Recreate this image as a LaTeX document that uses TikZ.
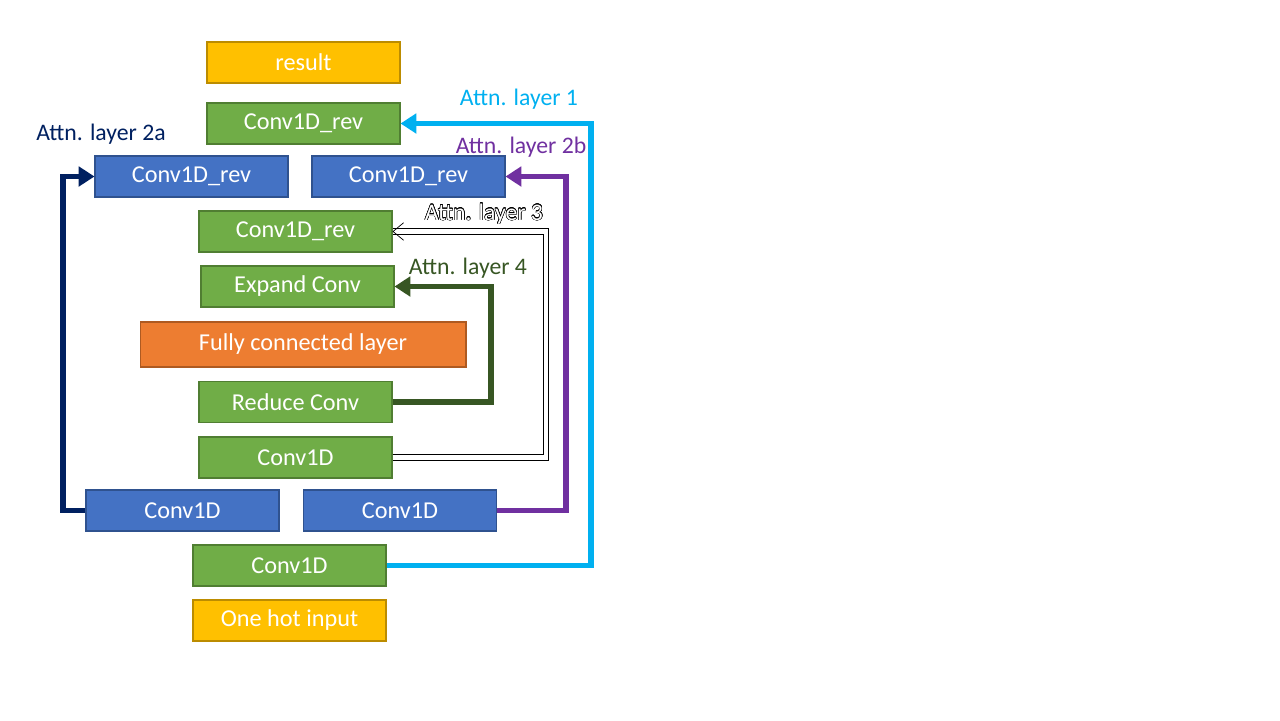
\documentclass[tikz,border=0pt]{standalone}
\usepackage{fontspec}
\setmainfont{Carlito}
\usepackage{tikz}
\usetikzlibrary{arrows.meta}
\usepackage{contour}
\contourlength{0.25pt}
\usepackage{xcolor}

\definecolor{boxgreen}{HTML}{70AD47}
\definecolor{boxgreenline}{HTML}{507E32}
\definecolor{boxblue}{HTML}{4472C4}
\definecolor{boxblueline}{HTML}{2F528F}
\definecolor{boxgold}{HTML}{FFC000}
\definecolor{boxgoldline}{HTML}{BC8C00}
\definecolor{boxorange}{HTML}{ED7D31}
\definecolor{boxorangeline}{HTML}{AE5A21}
\definecolor{attncyan}{HTML}{00B0F0}
\definecolor{attnnavy}{HTML}{002060}
\definecolor{attnpurple}{HTML}{7030A0}
\definecolor{attngreen}{HTML}{375623}

\tikzset{
  layer/.style={draw, line width=0.6pt, text=white, font=\fontsize{13.8}{15}\selectfont,
    minimum width=3.86cm, minimum height=0.82cm, inner sep=0pt},
  greenlayer/.style={layer, fill=boxgreen, draw=boxgreenline},
  bluelayer/.style={layer, fill=boxblue, draw=boxblueline},
  goldlayer/.style={layer, fill=boxgold, draw=boxgoldline},
  orangelayer/.style={layer, fill=boxorange, draw=boxorangeline, minimum width=6.52cm, minimum height=0.9cm},
  attn/.style={line width=3.2pt, -{Triangle[length=9pt, width=11pt]}},
  attnlabel/.style={font=\fontsize{13.5}{15}\selectfont, inner sep=0pt}
}

\begin{document}
\begin{tikzpicture}[x=0.02cm, y=-0.02cm]

        \useasboundingbox (0,0) rectangle (1280,720);

        % layers, top to bottom
        \node[goldlayer] (result) at (303.5, 62.5) {result};
        \node[greenlayer] (rev1) at (303.5, 123.5) {Conv1D\_rev};
        \node[bluelayer] (rev2a) at (191.5, 176.5) {Conv1D\_rev};
        \node[bluelayer] (rev2b) at (408.5, 176.5) {Conv1D\_rev};
        \node[greenlayer] (rev3) at (295.5, 231.5) {Conv1D\_rev};
        \node[greenlayer] (expand) at (297.5, 286.5) {Expand Conv};
        \node[orangelayer] (fc) at (303, 344.5) {Fully connected layer};
        \node[greenlayer] (reduce) at (295.5, 402) {Reduce Conv};
        \node[greenlayer] (conv3) at (295.5, 457.5) {Conv1D};
        \node[bluelayer] (conv2a) at (182.5, 510.5) {Conv1D};
        \node[bluelayer] (conv2b) at (400, 510.5) {Conv1D};
        \node[greenlayer] (conv1) at (289.5, 565.5) {Conv1D};
        \node[goldlayer] (input) at (289.5, 620.5) {One hot input};

        % turning points of the skip connections
        \coordinate (turn1) at (591, 0);
        \coordinate (turn2a) at (63, 0);
        \coordinate (turn2b) at (566, 0);
        \coordinate (turn3) at (546, 0);
        \coordinate (turn4) at (491, 0);

        % attention skips
        \draw[attn, attncyan] (conv1.east) -- (conv1.east -| turn1) |- (rev1.east);
        \draw[attn, attnnavy] (conv2a.west) -- (conv2a.west -| turn2a) |- (rev2a.west);
        \draw[attn, attnpurple] (conv2b.east) -- (conv2b.east -| turn2b) |- (rev2b.east);
        \draw[attn, attngreen] (reduce.east) -- (reduce.east -| turn4) |- (expand.east);
        \draw[draw=black, double=white, line width=0.5pt, double distance=2.5pt,
              -{Straight Barb[length=6pt, width=10pt, line width=0.4pt]}]
              (conv3.east) -- (conv3.east -| turn3) |- (rev3.east);

        % labels
        \node[attnlabel, text=attncyan] (lab1) at (519, 99) {Attn. layer 1};
        \node[attnlabel, text=attnnavy] (lab2a) at (101, 134) {Attn. layer 2a};
        \node[attnlabel, text=attnpurple] (lab2b) at (521, 147) {Attn. layer 2b};
        \node[attnlabel] (lab3) at (484, 214) {\contour{black}{\textcolor{white}{Attn. layer 3}}};
        \node[attnlabel, text=attngreen] (lab4) at (468, 268) {Attn. layer 4};

\end{tikzpicture}
\end{document}
